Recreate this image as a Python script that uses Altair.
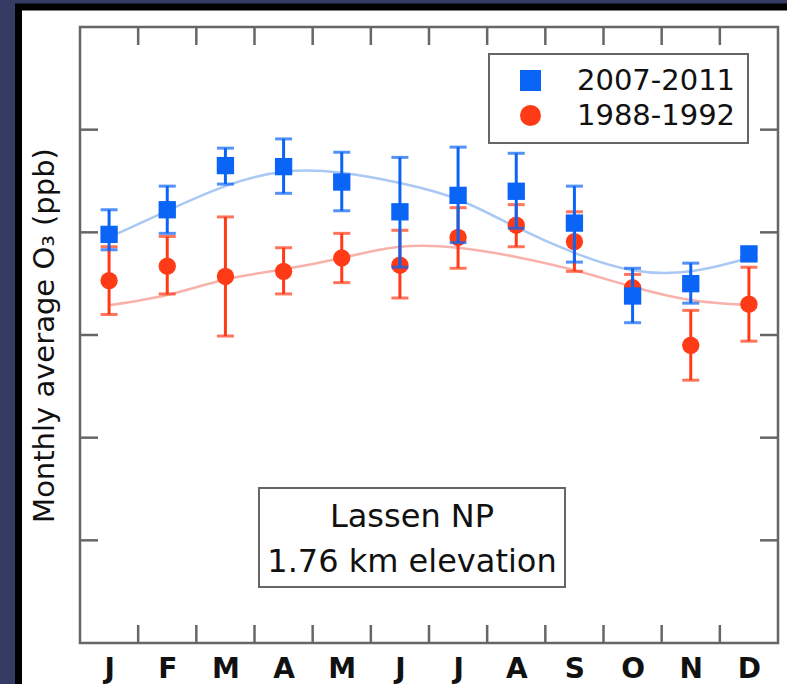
import json
import altair as alt
import pandas as pd

# ---------------- data ----------------
months = ["J", "F", "M", "A", "M", "J", "J", "A", "S", "O", "N", "D"]
month_num = [1, 2, 3, 4, 5, 6, 7, 8, 9, 10, 11, 12]

periods = ["2007-2011", "1988-1992"]

blue_mean = [39.8, 42.2, 46.5, 46.4, 44.9, 42.0, 43.6, 44.0, 40.9, 33.8, 35.0, 37.9]
blue_lo = [38.3, 39.9, 44.7, 43.8, 42.1, 36.6, 39.0, 40.4, 37.1, 31.2, 33.1, 37.5]
blue_hi = [42.2, 44.5, 48.2, 49.1, 47.8, 47.3, 48.3, 47.7, 44.5, 36.5, 37.0, 38.4]
blue_fit = [39.5, 42.1, 44.5, 45.9, 45.8, 44.8, 43.2, 40.5, 38.0, 36.3, 36.2, 37.5]

red_mean = [35.3, 36.7, 35.7, 36.2, 37.5, 36.8, 39.5, 40.7, 39.1, 34.6, 29.0, 33.0]
red_lo = [32.0, 34.0, 29.9, 34.0, 35.1, 33.6, 36.5, 38.6, 36.2, 33.2, 25.6, 29.4]
red_hi = [38.6, 39.6, 41.5, 38.5, 39.9, 40.2, 42.4, 42.7, 42.0, 35.9, 32.4, 36.6]
red_fit = [32.9, 33.9, 35.4, 36.4, 37.5, 38.6, 38.5, 37.6, 36.3, 34.7, 33.4, 32.9]

x_tick_pos = [1.5, 2.5, 3.5, 4.5, 5.5, 6.5, 7.5, 8.5, 9.5, 10.5, 11.5]
y_tick_pos = [10, 20, 30, 40, 50]
y_domain = [0, 60]

y_title = "Monthly average O\u2083 (ppb)"
annotation_lines = ["Lassen NP", "1.76 km elevation"]

# ---------------- style ----------------
colors = ["#0a64f5", "#ff3a17"]
fit_colors = ["#a9c8f4", "#f8b2aa"]
shapes = ["square", "circle"]
bg = "#343c63"
frame_gray = "#666666"
ink = "#111111"
FONT = "DejaVu Sans"
W, H = 698, 616

rows = []
for i, m in enumerate(month_num):
    rows.append(dict(month=m, period=periods[1], mean=red_mean[i], lo=red_lo[i],
                     hi=red_hi[i], fit=red_fit[i]))
for i, m in enumerate(month_num):
    rows.append(dict(month=m, period=periods[0], mean=blue_mean[i], lo=blue_lo[i],
                     hi=blue_hi[i], fit=blue_fit[i]))
df = pd.DataFrame(rows)
one = pd.DataFrame({"k": [0]})
xt = pd.DataFrame({"t": x_tick_pos})
yt = pd.DataFrame({"v": y_tick_pos})

xs = alt.Scale(domain=[0.5, 12.5], nice=False, zero=False)
ys = alt.Scale(domain=y_domain, nice=False, zero=False)

label_expr = json.dumps(months) + "[datum.value - 1]"
x_axis = alt.Axis(values=month_num, labelExpr=label_expr, ticks=False, domain=False,
                  grid=False, title=None, labelFontSize=28, labelFontWeight="bold",
                  labelColor=ink, labelPadding=12, labelFlush=False, labelOverlap=False,
                  labelFont=FONT, zindex=2)
y_axis = alt.Axis(labels=False, ticks=False, domain=False, grid=False, title=y_title,
                  titleFontSize=29, titleFontWeight="normal", titleColor=ink,
                  titlePadding=21, titleFont=FONT, zindex=2)


def X(field):
    return alt.X(field, scale=xs, axis=x_axis)


def Y(field):
    return alt.Y(field, scale=ys, axis=y_axis)


panel = alt.Chart(one).mark_rect(fill="white", stroke="black", strokeWidth=7).encode(
    x=alt.value(-61.5), x2=alt.value(720), y=alt.value(-20), y2=alt.value(680))

frame = alt.Chart(one).mark_rect(fill="white", fillOpacity=0, stroke=frame_gray,
                                 strokeWidth=2.5).encode(
    x=alt.value(0), x2=alt.value(W), y=alt.value(0), y2=alt.value(H))

tick_style = dict(color=frame_gray, strokeWidth=2.5)
xt_bottom = alt.Chart(xt).mark_rule(**tick_style).encode(
    x=X("t:Q"), y=alt.value(H), y2=alt.value(H - 18))
xt_top = alt.Chart(xt).mark_rule(**tick_style).encode(
    x=X("t:Q"), y=alt.value(0), y2=alt.value(18))
yt_left = alt.Chart(yt).mark_rule(**tick_style).encode(
    y=Y("v:Q"), x=alt.value(0), x2=alt.value(18))
yt_right = alt.Chart(yt).mark_rule(**tick_style).encode(
    y=Y("v:Q"), x=alt.value(W), x2=alt.value(W - 18))

legend = alt.Legend(title=None, orient="none", legendX=409, legendY=27, padding=12,
                    strokeColor=frame_gray, fillColor="white", labelFontSize=29,
                    labelColor=ink, labelFont=FONT, symbolSize=441, symbolStrokeWidth=0,
                    symbolOffset=15, labelOffset=32, rowPadding=5, symbolOpacity=1,
                    zindex=2)


def series_layers(idx):
    p = periods[idx]
    base = alt.Chart(df).transform_filter(alt.datum.period == p)
    fit = base.mark_line(color=fit_colors[idx], strokeWidth=2.5,
                         interpolate="natural").encode(x=X("month:Q"), y=Y("fit:Q"))
    bars = base.mark_rule(color=colors[idx], strokeWidth=3).encode(
        x=X("month:Q"), y=Y("lo:Q"), y2="hi:Q")
    caps = base.transform_fold(["lo", "hi"], as_=["which", "cap"]).mark_tick(
        orient="horizontal", size=17, thickness=3, color=colors[idx]).encode(
        x=X("month:Q"), y=Y("cap:Q"))
    pts = base.mark_point(filled=True, size=300, opacity=1).encode(
        x=X("month:Q"), y=Y("mean:Q"),
        color=alt.Color("period:N", scale=alt.Scale(domain=periods, range=colors),
                        legend=legend),
        shape=alt.Shape("period:N", scale=alt.Scale(domain=periods, range=shapes),
                        legend=legend))
    return fit, bars, caps, pts


blue_fit_l, blue_bars, blue_caps, blue_pts = series_layers(0)
red_fit_l, red_bars, red_caps, red_pts = series_layers(1)

ann_box = alt.Chart(one).mark_rect(fill="white", stroke=frame_gray, strokeWidth=2).encode(
    x=alt.value(179), x2=alt.value(485), y=alt.value(461), y2=alt.value(560))
ann_text = alt.Chart(one).mark_text(text=annotation_lines, fontSize=32, lineHeight=45,
                                    align="center", baseline="alphabetic", color=ink,
                                    font=FONT).encode(
    x=alt.value(332), y=alt.value(500))

chart = alt.layer(
    panel, frame, xt_bottom, xt_top, yt_left, yt_right,
    blue_fit_l, red_fit_l,
    red_bars, red_caps, red_pts,
    blue_bars, blue_caps, blue_pts,
    ann_box, ann_text,
).properties(
    width=W, height=H,
    autosize=alt.AutoSizeParams(type="none"),
    padding={"left": 80, "top": 27, "right": 9, "bottom": 41},
    background=bg,
).configure(font=FONT).configure_view(strokeWidth=0).configure_legend(strokeWidth=2)

chart.save("out.html", embed_options={"renderer": "svg", "actions": False})
